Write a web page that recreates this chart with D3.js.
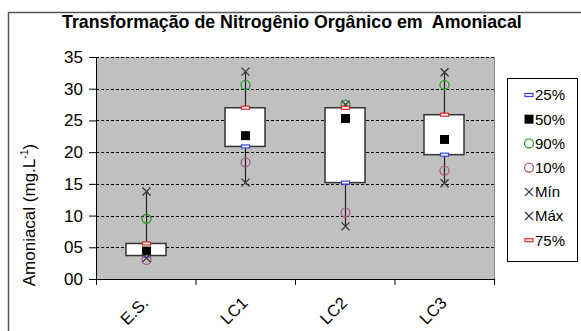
<!DOCTYPE html>
<html><head><meta charset="utf-8">
<script src="https://cdn.jsdelivr.net/npm/d3@7"></script>
<style>body{margin:0;background:#fff;}svg{display:block;font-family:"Liberation Sans",Arial,sans-serif;}</style>
</head><body><svg id="c" width="581" height="331"></svg>
<script>
const categories = ["E.S.", "LC1", "LC2", "LC3"];
const p25 = [3.7, 20.9, 15.2, 19.6];
const p50 = [4.4, 22.6, 25.3, 22.0];
const p90 = [9.5, 30.6, 27.5, 30.6];
const p10 = [3.0, 18.4, 10.5, 17.1];
const vMin = [3.3, 15.2, 8.3, 15.1];
const vMax = [13.8, 32.7, 27.5, 32.6];
const p75 = [5.6, 27.0, 27.0, 25.9];
const yTicks = [0, 5, 10, 15, 20, 25, 30, 35];
const yTickLabels = ["00", "05", "10", "15", "20", "25", "30", "35"];
const legendLabels = ["25%", "50%", "90%", "10%", "Mín", "Máx", "75%"];

const svg = d3.select("#c");
const L = 96, R = 494, T = 57, B = 279;
const x = d3.scaleBand().domain(categories).range([L, R]).padding(0);
const y = d3.scaleLinear().domain([0, 35]).range([B, T]);

// outer border
svg.append("path").attr("d", "M8.5,331 L8.5,12.5 L581,12.5").attr("fill", "none").attr("stroke", "#555").attr("stroke-width", 1.5);

// title
svg.append("text").attr("x", 62).attr("y", 28).attr("font-weight", "bold").attr("font-size", 17.8)
  .style("white-space", "pre").text("Transformação de Nitrogênio Orgânico em  Amoniacal");

// plot area
svg.append("rect").attr("x", L).attr("y", T).attr("width", R - L).attr("height", B - T).attr("fill", "#c0c0c0");
svg.append("line").attr("x1", R + 0.5).attr("x2", R + 0.5).attr("y1", T).attr("y2", B).attr("stroke", "#888").attr("stroke-width", 1);

// grid
svg.append("g").selectAll("line").data(yTicks.filter(d => d > 0)).join("line")
  .attr("x1", L).attr("x2", R).attr("y1", d => Math.round(y(d)) + 0.5).attr("y2", d => Math.round(y(d)) + 0.5)
  .attr("stroke", "#000").attr("stroke-dasharray", "3,2").attr("stroke-width", 1.1);

// y axis
const yAxis = d3.axisLeft(y).tickValues(yTicks).tickFormat((d, i) => yTickLabels[i]).tickSize(7).tickPadding(6);
const gy = svg.append("g").attr("transform", `translate(${L},0)`).call(yAxis);
gy.select(".domain").attr("stroke", "#000");
gy.selectAll("text").attr("font-size", 17).attr("fill", "#000").attr("font-family", "Liberation Sans, Arial, sans-serif");

// x axis
const gx = svg.append("g").attr("transform", `translate(0,${B})`);
gx.append("line").attr("x1", L).attr("x2", R).attr("y1", 0.5).attr("y2", 0.5).attr("stroke", "#000");
const bounds = categories.map(c => x(c)).concat([R]);
gx.selectAll("line.t").data(bounds).join("line").attr("class", "t")
  .attr("x1", d => d + 0.5).attr("x2", d => d + 0.5).attr("y1", 0).attr("y2", 6).attr("stroke", "#000");
gx.selectAll("text").data(categories).join("text")
  .attr("transform", d => `translate(${x(d) + x.bandwidth() / 2 + 3.5},${25}) rotate(-45)`)
  .attr("text-anchor", "end").attr("font-size", 16.5).text(d => d);

// y title
const yt = svg.append("text").attr("transform", `translate(35,${215}) rotate(-90)`).attr("text-anchor", "middle").attr("font-size", 17);
yt.append("tspan").text("Amoniacal (mg.L");
yt.append("tspan").attr("font-size", 10.5).attr("dy", -7).text("-1");
yt.append("tspan").attr("dy", 7).text(")");

// boxes
const cx = d => x(d) + x.bandwidth() / 2;
const g = svg.append("g");
categories.forEach((c, i) => {
  const xc = Math.round(cx(c));
  g.append("line").attr("x1", xc + 0.5).attr("x2", xc + 0.5).attr("y1", y(vMin[i])).attr("y2", y(vMax[i])).attr("stroke", "#222").attr("stroke-width", 1.2);
  g.append("rect").attr("x", xc - 20).attr("y", y(p75[i])).attr("width", 40).attr("height", y(p25[i]) - y(p75[i]))
    .attr("fill", "#fff").attr("stroke", "#333").attr("stroke-width", 1.5);
});

function drawMarker(sel, type, xc, yc) {
  if (type === "25%") sel.append("rect").attr("x", xc - 4).attr("y", yc - 1.5).attr("width", 8).attr("height", 3).attr("fill", "#fff").attr("stroke", "#3344ee").attr("stroke-width", 1.2);
  else if (type === "75%") sel.append("rect").attr("x", xc - 4).attr("y", yc - 1.5).attr("width", 8).attr("height", 3).attr("fill", "#fff").attr("stroke", "#ee2222").attr("stroke-width", 1.2);
  else if (type === "50%") sel.append("rect").attr("x", xc - 4.5).attr("y", yc - 4.5).attr("width", 9).attr("height", 9).attr("fill", "#000");
  else if (type === "90%") sel.append("circle").attr("cx", xc).attr("cy", yc).attr("r", 4.5).attr("fill", "none").attr("stroke", "#2a9a2a").attr("stroke-width", 1.3);
  else if (type === "10%") sel.append("circle").attr("cx", xc).attr("cy", yc).attr("r", 4.5).attr("fill", "none").attr("stroke", "#b05a88").attr("stroke-width", 1.3);
  else sel.append("path").attr("d", `M${xc - 4},${yc - 4}L${xc + 4},${yc + 4}M${xc - 4},${yc + 4}L${xc + 4},${yc - 4}`).attr("stroke", "#333").attr("stroke-width", 1.2);
}
const seriesVals = {"25%": p25, "50%": p50, "90%": p90, "10%": p10, "Mín": vMin, "Máx": vMax, "75%": p75};
categories.forEach((c, i) => {
  const xc = Math.round(cx(c)) + 0.5;
  legendLabels.forEach(k => drawMarker(g, k, xc, y(seriesVals[k][i])));
});

// legend
svg.append("rect").attr("x", 507.5).attr("y", 78.5).attr("width", 70).attr("height", 183).attr("fill", "#fff").attr("stroke", "#000");
legendLabels.forEach((k, i) => {
  const ly = 95 + i * 24.2;
  const lg = svg.append("g");
  drawMarker(lg, k, 529, ly);
  lg.append("text").attr("x", 535).attr("y", ly).attr("dy", "0.36em").attr("font-size", 15).text(k);
});
</script></body></html>
